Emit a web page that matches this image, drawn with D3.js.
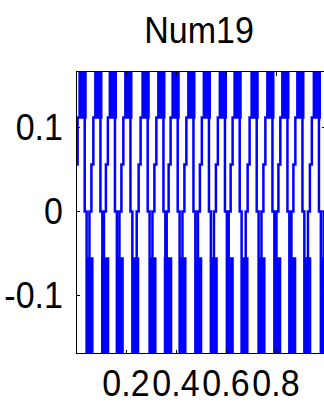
<!DOCTYPE html>
<html><head><meta charset="utf-8">
<script src="https://cdn.jsdelivr.net/npm/d3@7/dist/d3.min.js"></script>
<style>body{margin:0;background:#fff;overflow:hidden}svg{display:block}</style>
</head><body>
<svg id="c" width="324" height="402"></svg>
<script>
// ---- data ----
const title = "Num19";
const xTicks = [0.2, 0.4, 0.6, 0.8];
const xTickLabels = ["0.2", "0.4", "0.6", "0.8"];
const yTicks = [0.1, 0, -0.1];
const yTickLabels = ["0.1", "0", "-0.1"];
const xDomain = [0, 1];
const yDomain = [-0.169, 0.1667];
// x (data units) where each upper band of the trace begins
const bandStarts = [0.012, 0.075, 0.133, 0.195, 0.264, 0.327, 0.384, 0.447, 0.509, 0.573, 0.632, 0.700, 0.763, 0.823, 0.883, 0.949, 1.012];
// shape of one cycle of the trace: x offsets from the band start and the y value at each vertex
const cycleDx = [-0.028,-0.028,-0.0212,-0.0212,-0.0134,-0.0134,-0.0056,-0.0056,0.0024,0.0024,0.0084,0.0084,0.0144,0.0144,0.0204,0.0204,0.026,0.026,0.0228,0.0228,0.0304,0.0304,0.0372,0.0372,0.0432,0.0432,0.0492,0.0492,0.0532,0.0532];
const cycleY = [-0.3,-0.056,-0.056,0,0,0.056,0.056,0.112,0.112,0.3,0.3,0.112,0.112,0.3,0.3,0.112,0.112,0.3,0.3,0,0,-0.3,-0.3,-0.056,-0.056,-0.3,-0.3,-0.056,-0.056,-0.3];

// ---- drawing ----
const svg = d3.select("#c");
const x = d3.scaleLinear().domain(xDomain).range([76, 326]);
const y = d3.scaleLinear().domain(yDomain).range([353.5, 71.5]);
const FONT = "Liberation Sans, Arial, Helvetica, sans-serif";
const FS = 34, SY = 1.08;

svg.append("defs").append("clipPath").attr("id", "clip")
  .append("rect").attr("x", x(0)).attr("y", y(yDomain[1])).attr("width", x(1) - x(0)).attr("height", y(yDomain[0]) - y(yDomain[1]));

const pts = [];
bandStarts.forEach(s => cycleDx.forEach((d, i) => pts.push([s + d, cycleY[i]])));
const line = d3.line().x(d => x(d[0])).y(d => y(d[1]));
svg.append("path").attr("clip-path", "url(#clip)")
  .attr("d", line(pts)).attr("fill", "none").attr("stroke", "#0000ff")
  .attr("stroke-width", 2.5).attr("stroke-linejoin", "miter");

// box
const g = svg.append("g").attr("shape-rendering", "crispEdges");
g.append("rect").attr("x", x(0) + 0.5).attr("y", y(yDomain[1])).attr("width", x(1) - x(0)).attr("height", y(yDomain[0]) - y(yDomain[1]))
  .attr("fill", "none").attr("stroke", "#000").attr("stroke-width", 1);
const TL = 4;
xTicks.forEach(v => {
  g.append("line").attr("x1", x(v)).attr("x2", x(v)).attr("y1", y(yDomain[0])).attr("y2", y(yDomain[0]) - TL).attr("stroke", "#000");
  g.append("line").attr("x1", x(v)).attr("x2", x(v)).attr("y1", y(yDomain[1])).attr("y2", y(yDomain[1]) + TL).attr("stroke", "#000");
});
yTicks.forEach(v => {
  g.append("line").attr("x1", x(0)).attr("x2", x(0) + TL).attr("y1", y(v)).attr("y2", y(v)).attr("stroke", "#000");
  g.append("line").attr("x1", x(1)).attr("x2", x(1) - TL).attr("y1", y(v)).attr("y2", y(v)).attr("stroke", "#000");
});

// text helpers: measure ink extents
const ctx = document.createElement("canvas").getContext("2d");
ctx.font = FS + "px " + FONT;
function txt(s, px, py, anchor) {
  return svg.append("text").attr("transform", `translate(${px},${py}) scale(1,${SY})`)
    .attr("text-anchor", anchor).attr("font-family", FONT).attr("font-size", FS).attr("fill", "#000").text(s);
}
yTicks.forEach((v, i) => {
  const m = ctx.measureText(yTickLabels[i]);
  txt(yTickLabels[i], 62 - m.actualBoundingBoxRight, y(v) + 12.5, "start");
});
xTicks.forEach((v, i) => txt(xTickLabels[i], x(v), 396, "middle"));
txt(title, 199, 43, "middle");
</script>
</body></html>
